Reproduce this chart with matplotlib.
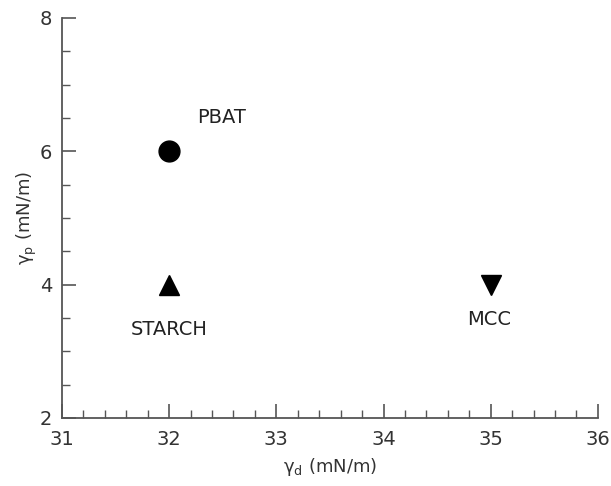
import numpy as np
import matplotlib.pyplot as plt
from matplotlib.ticker import MultipleLocator

names = ['PBAT', 'STARCH', 'MCC']
gamma_d = [32, 32, 35]
gamma_p = [6, 4, 4]
markers = ['o', '^', 'v']
label_pos = [(32.49, 6.5), (32.0, 3.32), (34.99, 3.47)]

grey = '#555555'
fig = plt.figure(figsize=(6.11, 4.86), dpi=100)
ax = fig.add_axes([0.1015, 0.14, 0.877, 0.823])

for x, y, m in zip(gamma_d, gamma_p, markers):
    ax.plot(x, y, marker=m, color='black', markersize=15, linestyle='none')
for name, (tx, ty) in zip(names, label_pos):
    ax.text(tx, ty, name, ha='center', va='center', fontsize=14, color='#222222')

ax.set_xlim(31, 36)
ax.set_ylim(2, 8)
ax.xaxis.set_major_locator(MultipleLocator(1))
ax.xaxis.set_minor_locator(MultipleLocator(0.2))
ax.yaxis.set_major_locator(MultipleLocator(2))
ax.yaxis.set_minor_locator(MultipleLocator(0.5))
ax.spines['top'].set_visible(False)
ax.spines['right'].set_visible(False)
for s in ['left', 'bottom']:
    ax.spines[s].set_color(grey)
    ax.spines[s].set_linewidth(1.3)
ax.tick_params(which='major', direction='in', length=10, width=1.2, color=grey,
               labelsize=14, labelcolor='#333333')
ax.tick_params(axis='x', which='major', pad=9)
ax.tick_params(axis='y', which='major', pad=7)
ax.tick_params(which='minor', direction='in', length=6, width=1.0, color=grey)
ax.set_xlabel(r'γ$_\mathrm{d}$ (mN/m)', fontsize=13, color='#333333', labelpad=5)
ax.set_ylabel(r'γ$_\mathrm{p}$ (mN/m)', fontsize=13, color='#333333', labelpad=1)

fig.savefig('out.png', dpi=100)
